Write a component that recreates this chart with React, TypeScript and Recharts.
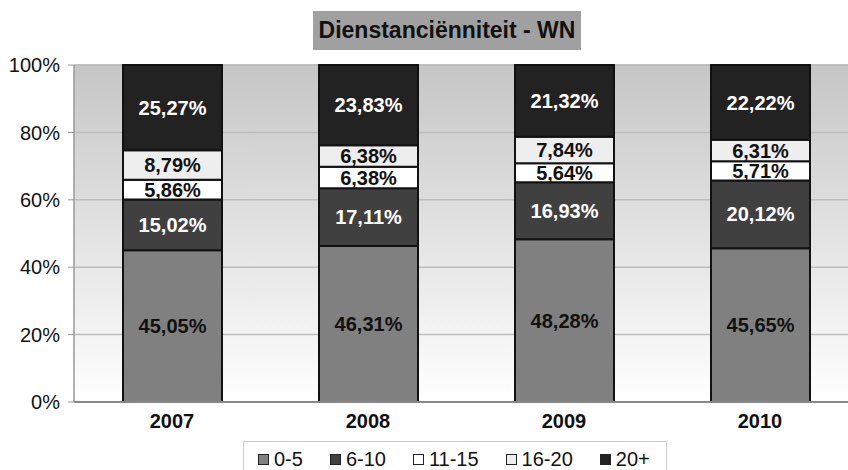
import React from "react";
import { BarChart, Bar, XAxis, YAxis, CartesianGrid, LabelList } from "recharts";

const years = ["2007", "2008", "2009", "2010"];
const s0_5 = [45.05, 46.31, 48.28, 45.65];
const s6_10 = [15.02, 17.11, 16.93, 20.12];
const s11_15 = [5.86, 6.38, 5.64, 5.71];
const s16_20 = [8.79, 6.38, 7.84, 6.31];
const s20plus = [25.27, 23.83, 21.32, 22.22];
const yTicks = [0, 20, 40, 60, 80, 100];

const series = [
  { key: "a", name: "0-5", values: s0_5, fill: "#808080", text: "#111" },
  { key: "b", name: "6-10", values: s6_10, fill: "#404040", text: "#fff" },
  { key: "c", name: "11-15", values: s11_15, fill: "#ffffff", text: "#111" },
  { key: "d", name: "16-20", values: s16_20, fill: "#eeeeee", text: "#111" },
  { key: "e", name: "20+", values: s20plus, fill: "#222222", text: "#fff" },
];

const data = years.map((y, i) => {
  const row: any = { year: y };
  series.forEach(s => { row[s.key] = s.values[i]; });
  return row;
});

const font = "'Liberation Sans', Arial, Helvetica, sans-serif";
const fmt = (v: any) => Number(v).toFixed(2).replace(".", ",") + "%";

export default function App() {
  return (
    <div style={{ position: "absolute", left: 0, top: 0, width: 848, height: 470, overflow: "hidden", background: "#fff", fontFamily: font }}>
      <div style={{
        position: "absolute", left: 313, top: 11, width: 268, height: 39, background: "#a0a0a0",
        fontWeight: "bold", fontSize: 23, color: "#111", textAlign: "center", lineHeight: "39px",
      }}>
        Dienstanciënniteit - WN
      </div>
      <BarChart width={860} height={470} data={data} margin={{ top: 65, right: 2, left: 0, bottom: 38 }} barSize={99}>
        <defs>
          <linearGradient id="bg" x1="0" y1="0" x2="0" y2="1">
            <stop offset="0%" stopColor="#c6c6c6" />
            <stop offset="100%" stopColor="#ffffff" />
          </linearGradient>
        </defs>
        <CartesianGrid vertical={false} stroke="#bdbdbd" strokeWidth={1.5} fill="url(#bg)" fillOpacity={1} />
        <XAxis dataKey="year" height={30} tickLine={false} axisLine={{ stroke: "#888", strokeWidth: 2 }}
          tick={{ fill: "#111", fontSize: 20, fontWeight: "bold", fontFamily: font }} tickMargin={6} />
        <YAxis width={74} domain={[0, 100]} ticks={yTicks} tickFormatter={(v: number) => v + "%"}
          axisLine={{ stroke: "#999", strokeWidth: 1.5 }} tickLine={{ stroke: "#999" }} tickSize={6}
          tick={{ fill: "#111", fontSize: 20, fontFamily: font }} tickMargin={8} />
        {series.map(s => (
          <Bar key={s.key} dataKey={s.key} name={s.name} stackId="x" fill={s.fill} stroke="#111" strokeWidth={2} isAnimationActive={false}>
            <LabelList dataKey={s.key} position="center" formatter={fmt}
              style={{ fill: s.text, fontSize: 20, fontWeight: "bold", fontFamily: font }} />
          </Bar>
        ))}
      </BarChart>
      <div style={{
        position: "absolute", left: 243, top: 441, width: 424, height: 40, border: "1px solid #ccc", background: "#fff",
        display: "flex", flexWrap: "nowrap", alignItems: "flex-start", paddingLeft: 14, paddingTop: 5, boxSizing: "border-box",
      }}>
        {series.map(s => (
          <div key={s.key} style={{ display: "flex", flexShrink: 0, whiteSpace: "nowrap", alignItems: "center", marginRight: 27, fontSize: 20, lineHeight: "24px", color: "#111" }}>
            <span style={{ display: "inline-block", flexShrink: 0, width: 9, height: 9, background: s.fill, border: "1.5px solid #222", marginRight: 5 }} />
            {s.name}
          </div>
        ))}
      </div>
    </div>
  );
}
